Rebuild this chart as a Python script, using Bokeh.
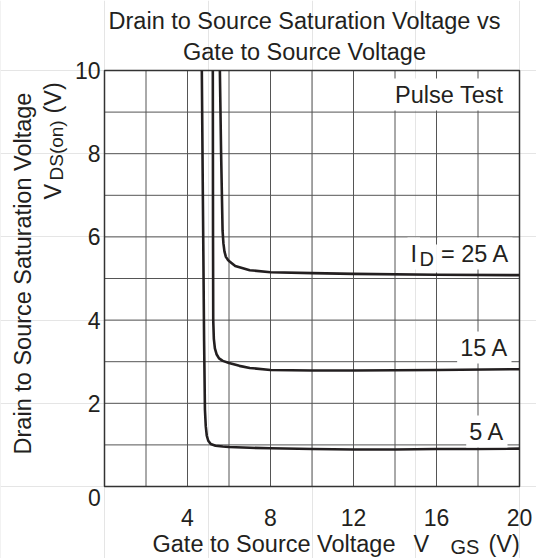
import math
from bokeh.plotting import figure
from bokeh.models import FixedTicker, Label, LinearAxis
from bokeh.embed import file_html
from bokeh.resources import INLINE

# ---- data ----
vgs_5a = [4.69, 4.74, 4.80, 4.84, 4.88, 4.93, 5.00, 5.12, 5.35, 5.7, 6.0, 7.0, 8.0, 10.0, 12.0, 14.0, 16.0, 18.0, 20.0]
vds_5a = [10.0, 7.0, 3.5, 1.85, 1.45, 1.22, 1.10, 1.02, 0.98, 0.96, 0.95, 0.93, 0.92, 0.90, 0.89, 0.89, 0.90, 0.90, 0.91]

vgs_15a = [5.22, 5.23, 5.24, 5.27, 5.32, 5.40, 5.52, 5.70, 6.0, 6.5, 7.0, 8.0, 10.0, 12.0, 16.0, 20.0]
vds_15a = [10.0, 6.0, 4.0, 3.55, 3.32, 3.18, 3.08, 3.02, 2.97, 2.90, 2.85, 2.80, 2.79, 2.79, 2.80, 2.82]

vgs_25a = [5.56, 5.62, 5.69, 5.73, 5.78, 5.85, 5.93, 6.0, 6.3, 7.0, 8.0, 10.0, 12.0, 16.0, 20.0]
vds_25a = [10.0, 8.0, 6.15, 5.85, 5.65, 5.52, 5.46, 5.42, 5.30, 5.20, 5.15, 5.13, 5.11, 5.09, 5.08]

x_limits = [0, 20]
y_limits = [0, 10]
x_ticks = [4, 8, 12, 16, 20]
y_ticks = [2, 4, 6, 8, 10]
x_grid = [2, 4, 6, 8, 10, 12, 14, 16, 18]
y_grid = [1, 2, 3, 4, 5, 6, 7, 8, 9]

# ---- layout (pixels) ----
W, H = 536, 558
BOX_L, BOX_R, BOX_T, BOX_B = 104, 519, 70, 486
sx = (BOX_R - BOX_L) / (x_limits[1] - x_limits[0])
sy = (BOX_B - BOX_T) / (y_limits[1] - y_limits[0])
x_start = x_limits[0] - BOX_L / sx
x_end = x_limits[1] + (W - BOX_R) / sx
y_start = y_limits[0] - (H - BOX_B) / sy
y_end = y_limits[1] + BOX_T / sy

FONT = "Liberation Sans"
FS = "23.5px"
FS_SUB = "20px"
FS_TICK = "23px"
INK = "#231f20"
GRID = "#555555"

p = figure(width=W, height=H, x_range=(x_start, x_end), y_range=(y_start, y_end),
           output_backend="svg", toolbar_location=None,
           x_axis_location=None, y_axis_location=None, min_border=0)
p.background_fill_color = "white"
p.border_fill_color = "white"
p.outline_line_color = None

# grid lines (bounded to the chart box)
p.segment(x0=x_grid, y0=[y_limits[0]] * len(x_grid), x1=x_grid, y1=[y_limits[1]] * len(x_grid),
          line_color=GRID, line_width=1)
p.segment(x0=[x_limits[0]] * len(y_grid), y0=y_grid, x1=[x_limits[1]] * len(y_grid), y1=y_grid,
          line_color=GRID, line_width=1)
# chart box
p.quad(left=[x_limits[0]], right=[x_limits[1]], bottom=[y_limits[0]], top=[y_limits[1]],
       fill_color=None, line_color="#333333", line_width=1.5)

# axes fixed to the chart box edges
xax = LinearAxis(fixed_location=y_limits[0], ticker=FixedTicker(ticks=x_ticks))
yax = LinearAxis(fixed_location=x_limits[0], ticker=FixedTicker(ticks=y_ticks))
for ax in (xax, yax):
    ax.axis_line_color = None
    ax.major_tick_line_color = None
    ax.minor_tick_line_color = None
    ax.major_tick_out = 0
    ax.major_tick_in = 0
    ax.minor_tick_out = 0
    ax.minor_tick_in = 0
    ax.major_label_text_font = FONT
    ax.major_label_text_font_size = FS_TICK
    ax.major_label_text_color = INK
xax.major_label_standoff = 22
yax.major_label_standoff = 4
p.add_layout(xax, "below")
p.add_layout(yax, "left")

# curves
for xs, ys in ((vgs_5a, vds_5a), (vgs_15a, vds_15a), (vgs_25a, vds_25a)):
    p.line(xs, ys, line_color=INK, line_width=2.6, line_join="round")

# helpers: page pixel -> data coords
def dx(px):
    return x_limits[0] + (px - BOX_L) / sx

def dy(py):
    return y_limits[0] + (BOX_B - py) / sy

def lab(text, px, py, align="left", size=FS, angle=0.0, bg=None):
    """px, py: the text's anchor; py (or px when rotated) is the text's vertical middle."""
    kw = dict(x=dx(px), y=dy(py), text=text, text_font=FONT, text_font_size=size,
              text_color=INK, text_align=align, text_baseline="middle", angle=angle)
    if bg:
        kw["background_fill_color"] = bg
        kw["padding"] = 3
    p.add_layout(Label(**kw))

# title
lab("Drain to Source Saturation Voltage vs", 304, 20, align="center")
lab("Gate to Source Voltage", 304, 51, align="center")

# x-axis title
lab("Gate to Source Voltage", 152, 543)
lab("V", 413, 543)
lab("GS", 450, 546, size=FS_SUB)
lab("(V)", 488, 543)

# y-axis title (rotated)
lab("Drain to Source Saturation Voltage", 22, 273, align="center", angle=math.pi / 2)
lab("V", 52, 199, angle=math.pi / 2)
lab("DS(on)", 56, 180, size="19px", angle=math.pi / 2)
lab("(V)", 52, 113, angle=math.pi / 2)

# origin label
lab("0", 94, 497, align="center", size=FS_TICK)

# in-plot annotations
lab("Pulse Test", 506, 94, align="right", bg="white")
lab("= 25 A", 512, 253, align="right", bg="white")
lab("D", 416, 258, size=FS_SUB, bg="white")
lab("I", 407, 253, bg="white")
lab("15 A", 511, 347, align="right", bg="white")
lab("5 A", 507, 431, align="right", bg="white")

open("out.html", "w").write(file_html(p, INLINE))
